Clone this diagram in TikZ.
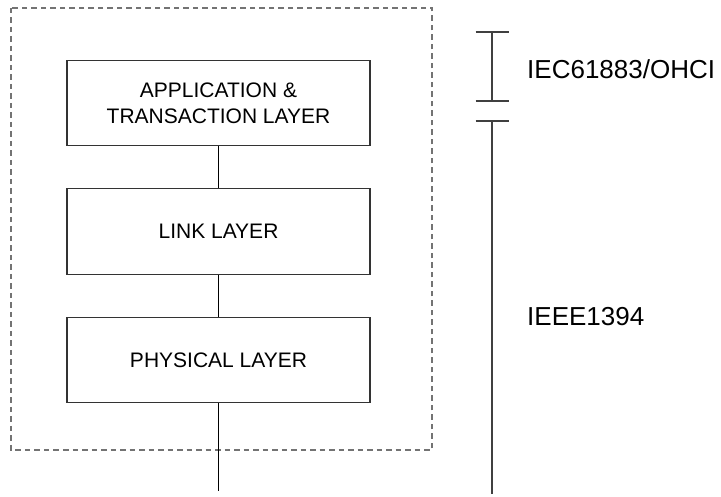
\documentclass[tikz,border=0pt]{standalone}
\usepackage{fontspec}
\setmainfont{Liberation Sans}
\begin{document}
\begin{tikzpicture}[x=1pt,y=1pt,
  layerbox/.style={draw=black!80, line width=1.1pt, minimum width=303pt, minimum height=85.5pt,
    align=center, inner sep=0pt, font=\fontsize{21}{26}\selectfont},
  conn/.style={draw=black, line width=1.1pt},
  bracketline/.style={draw=black!75, line width=1.1pt},
  frame/.style={draw=black!55, line width=1.1pt, dash pattern=on 5.5pt off 4pt},
  lbl/.style={anchor=base west, inner sep=0pt, font=\fontsize{26}{31}\selectfont}]
\useasboundingbox (0,0) rectangle (721,497);
% dashed frame
\draw[frame] (11,489) rectangle (432,47);
% layer boxes
\node[layerbox] (app) at (218.5,394) {APPLICATION \&\\TRANSACTION LAYER};
\node[layerbox] (link) at (218.5,265.5) {LINK LAYER};
\node[layerbox] (phys) at (218.5,137) {PHYSICAL LAYER};
\coordinate (bus) at (218.5,6);
\draw[conn] (app.south) -- (link.north);
\draw[conn] (link.south) -- (phys.north);
\draw[conn] (phys.south) -- (bus);
% right brackets
\coordinate (b1t) at (492,465);
\coordinate (b1b) at (492,396);
\coordinate (b2t) at (492,376);
\coordinate (b2b) at (492,3);
\draw[bracketline] (b1t) -- (b1b);
\draw[bracketline] ([xshift=-16.5pt]b1t) -- ([xshift=16.5pt]b1t);
\draw[bracketline] ([xshift=-16.5pt]b1b) -- ([xshift=16.5pt]b1b);
\draw[bracketline] (b2t) -- (b2b);
\draw[bracketline] ([xshift=-16.5pt]b2t) -- ([xshift=16.5pt]b2t);
\node[lbl] (iec) at (527,418.7) {IEC61883/OHCI};
\node[lbl] (ieee) at (527,171.3) {IEEE1394};
\end{tikzpicture}
\end{document}
